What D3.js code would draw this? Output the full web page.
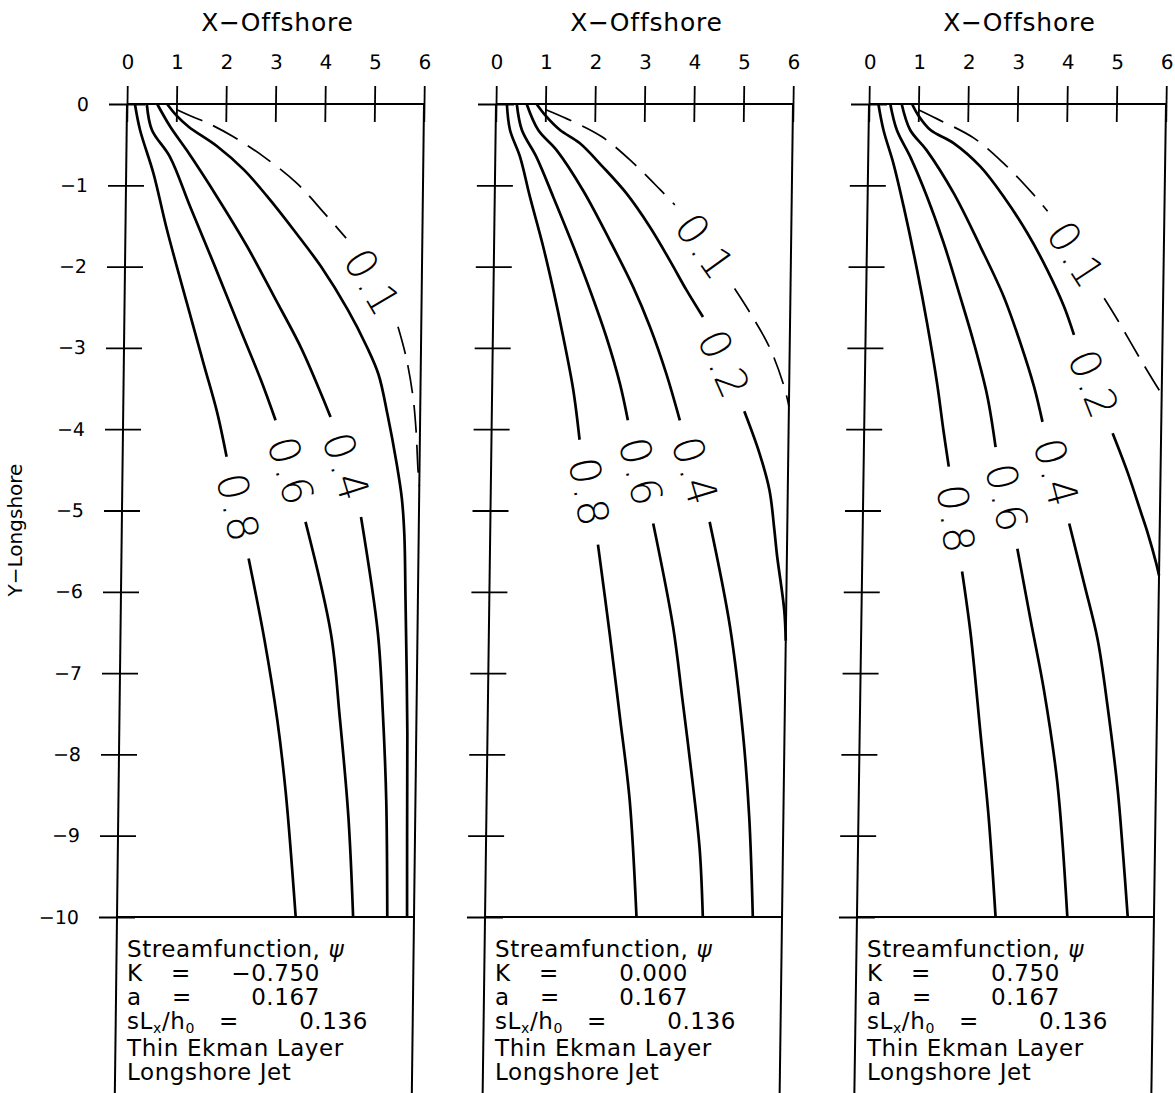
<!DOCTYPE html>
<html>
<head>
<meta charset="utf-8">
<script src="https://cdn.jsdelivr.net/npm/d3@7"></script>
<style>
  body { margin: 0; background: #fff; }
  svg { display: block; font-family: "DejaVu Sans", sans-serif; }
</style>
</head>
<body>
<svg id="chart" width="1175" height="1093"></svg>
<script>
// streamfunction levels drawn in every panel (0.1 is the dashed one)
var levels = [0.1, 0.2, 0.4, 0.6, 0.8];
var kValues = [-0.750, 0.000, 0.750];
var aValue = 0.167;
var slhValue = 0.136;
var xTicks = [0, 1, 2, 3, 4, 5, 6];
var yTicks = [0, -1, -2, -3, -4, -5, -6, -7, -8, -9, -10];

// panel 1, K = -0.750 : each contour is a list of pieces, broken where its label sits
var k1_psi01 = [[[1.01,-0.07],[1.34,-0.16],[1.62,-0.23],[2.15,-0.40],[2.78,-0.65],[3.46,-0.98],[3.98,-1.32],[4.46,-1.65]],
                [[5.53,-2.74],[5.70,-3.11],[5.85,-3.60],[5.92,-4.01],[5.97,-4.50],[6.0,-4.7]]];
var k1_psi02 = [[[0.81,0],[1.0,-0.14],[1.25,-0.28],[1.83,-0.52],[2.38,-0.81],[2.86,-1.14],[3.40,-1.55],[3.96,-2.00],[4.51,-2.53],[4.90,-2.98],[5.15,-3.33],[5.34,-3.82],[5.53,-4.40],[5.65,-4.85],[5.71,-5.30],[5.75,-6.10],[5.82,-7.74],[5.84,-8.97],[5.86,-10]]];
var k1_psi04 = [[[0.61,0],[0.88,-0.28],[1.22,-0.57],[1.84,-1.14],[2.46,-1.75],[3.02,-2.37],[3.57,-2.99],[3.99,-3.56],[4.19,-3.85]],
                [[4.83,-5.08],[5.20,-6.51],[5.32,-7.49],[5.41,-8.56],[5.46,-10]]];
var k1_psi06 = [[[0.40,0],[0.51,-0.32],[0.88,-0.65],[1.30,-1.26],[1.79,-1.96],[2.35,-2.78],[2.77,-3.39],[3.08,-3.89]],
                [[3.71,-5.14],[4.25,-6.51],[4.45,-7.54],[4.65,-8.77],[4.77,-10]]];
var k1_psi08 = [[[0.16,0],[0.27,-0.32],[0.55,-0.85],[0.84,-1.55],[1.26,-2.45],[1.61,-3.19],[1.90,-3.80],[2.10,-4.34]],
                [[2.57,-5.59],[2.91,-6.59],[3.19,-7.58],[3.38,-8.48],[3.61,-10]]];

// panel 2, K = 0.000
var k2_psi01 = [[[1.01,-0.07],[1.43,-0.18],[2.14,-0.40],[2.78,-0.72],[3.35,-1.06],[3.64,-1.24]],
                [[4.87,-2.27],[5.17,-2.55],[5.59,-2.99],[5.90,-3.48],[6.0,-3.72]]];
var k2_psi02 = [[[0.82,0],[1.0,-0.14],[1.30,-0.32],[1.70,-0.48],[2.17,-0.77],[2.66,-1.10],[3.14,-1.51],[3.55,-1.92],[3.90,-2.29],[4.24,-2.62]],
                [[5.10,-3.78],[5.42,-4.30],[5.63,-4.75],[5.74,-5.24],[5.80,-5.55],[5.96,-6.22],[6.0,-6.6]]];
var k2_psi04 = [[[0.62,0],[0.86,-0.32],[1.24,-0.57],[1.78,-1.06],[2.33,-1.67],[2.82,-2.25],[3.17,-2.74],[3.51,-3.31],[3.80,-3.89]],
                [[4.43,-5.14],[4.87,-6.43],[5.16,-7.74],[5.31,-8.77],[5.41,-10]]];
var k2_psi06 = [[[0.42,0],[0.53,-0.32],[0.83,-0.65],[1.18,-1.14],[1.60,-1.75],[1.95,-2.29],[2.29,-2.86],[2.58,-3.44],[2.75,-3.89]],
                [[3.29,-5.16],[3.72,-6.43],[3.93,-7.33],[4.16,-8.36],[4.32,-9.18],[4.40,-10]]];
var k2_psi08 = [[[0.22,0],[0.29,-0.32],[0.50,-0.65],[0.71,-1.14],[0.99,-1.75],[1.21,-2.29],[1.42,-2.86],[1.64,-3.52],[1.78,-4.13]],
                [[2.18,-5.42],[2.44,-6.51],[2.67,-7.54],[2.89,-8.56],[3.06,-10]]];

// panel 3, K = 0.750
var k3_psi01 = [[[1.00,-0.07],[1.37,-0.18],[2.13,-0.42],[2.74,-0.73],[3.33,-1.10],[3.64,-1.32]],
                [[4.81,-2.39],[5.09,-2.66],[5.57,-3.15],[5.95,-3.52],[6.0,-3.56]]];
var k3_psi02 = [[[0.87,0],[1.0,-0.14],[1.25,-0.32],[1.72,-0.48],[2.27,-0.77],[2.75,-1.14],[3.24,-1.59],[3.65,-2.04],[4.00,-2.49],[4.21,-2.84]],
                [[5.02,-4.05],[5.34,-4.54],[5.62,-5.03],[5.76,-5.28],[5.94,-5.65],[6.0,-5.8]]];
var k3_psi04 = [[[0.66,0],[0.84,-0.32],[1.18,-0.57],[1.74,-1.10],[2.29,-1.75],[2.78,-2.37],[3.13,-2.94],[3.42,-3.48],[3.60,-3.91]],
                [[4.17,-5.16],[4.49,-5.90],[4.78,-6.59],[5.00,-7.41],[5.23,-8.44],[5.35,-9.18],[5.47,-10]]];
var k3_psi06 = [[[0.43,0],[0.57,-0.32],[0.85,-0.65],[1.20,-1.14],[1.55,-1.71],[1.90,-2.37],[2.19,-2.94],[2.48,-3.60],[2.66,-4.22]],
                [[3.13,-5.47],[3.42,-6.35],[3.71,-7.21],[4.01,-8.36],[4.25,-10]]];
var k3_psi08 = [[[0.19,0],[0.30,-0.32],[0.51,-0.73],[0.73,-1.26],[1.02,-2.04],[1.24,-2.70],[1.46,-3.44],[1.60,-4.01],[1.72,-4.46]],
                [[2.02,-5.75],[2.21,-6.51],[2.44,-7.74],[2.63,-8.77],[2.80,-10]]];

var panelContours = [
  [k1_psi01, k1_psi02, k1_psi04, k1_psi06, k1_psi08],
  [k2_psi01, k2_psi02, k2_psi04, k2_psi06, k2_psi08],
  [k3_psi01, k3_psi02, k3_psi04, k3_psi06, k3_psi08]
];

//layout
var panelLeft = [127, 496, 869];
var top0 = 104;
var plotW = 297;
var plotH = 813;
var shear = [0.0123, 0.0135, 0.0148];   // the scanned frames lean a little to the left going down
var boxBottom = -12.3;
var boxLines = [957, 981, 1005, 1029, 1056, 1080];

var svg = d3.select('#chart');
var x = d3.scaleLinear().domain([0, 6]).range([0, plotW]);
var y = d3.scaleLinear().domain([0, -10]).range([0, plotH]);
var fmtK = d3.format('.3f');
var fmtLevel = d3.format('.1f');

var line = d3.line()
  .x(function(d){ return x(d[0]); })
  .y(function(d){ return y(d[1]); })
  .curve(d3.curveCatmullRom);

svg.append('text')
  .attr('transform', 'translate(22,530) rotate(-90)')
  .attr('text-anchor', 'middle')
  .attr('font-size', 20)
  .text('Y\u2212Longshore');

panelContours.forEach(function(contours, p){
  var left = panelLeft[p];
  var skew = -Math.atan(shear[p]) * 180 / Math.PI;

  svg.append('text')
    .attr('x', left + plotW / 2 + 2)
    .attr('y', 31)
    .attr('text-anchor', 'middle')
    .attr('font-size', 25)
    .attr('letter-spacing', 0.8)
    .text('X\u2212Offshore');

  var g = svg.append('g')
    .attr('transform', 'translate(' + left + ',' + top0 + ') skewX(' + skew + ')');

  // frame: left axis and right edge run on down as the sides of the text box
  var frame = g.append('g').attr('stroke', '#000').attr('stroke-width', 2);
  frame.append('line').attr('x1', x(0)).attr('x2', x(0)).attr('y1', y(0)).attr('y2', y(boxBottom));
  frame.append('line').attr('x1', x(6)).attr('x2', x(6)).attr('y1', y(0)).attr('y2', y(boxBottom));
  frame.append('line').attr('x1', x(0)).attr('x2', x(6)).attr('y1', y(0)).attr('y2', y(0));
  frame.append('line').attr('x1', x(0)).attr('x2', x(6)).attr('y1', y(-10)).attr('y2', y(-10));

  var xAxis = g.append('g')
    .call(d3.axisTop(x).tickValues(xTicks).tickSize(18).tickPadding(17).tickFormat(d3.format('d')));
  xAxis.select('.domain').remove();
  xAxis.selectAll('.tick line').attr('y1', 18).attr('stroke-width', 1.8);
  xAxis.selectAll('.tick text').style('font-size', '20px').style('font-family', '"DejaVu Sans", sans-serif');

  var yAxis = g.append('g')
    .call(d3.axisLeft(y).tickValues(yTicks).tickSize(18).tickPadding(20)
      .tickFormat(p === 0 ? d3.format('d') : function(){ return ''; }));
  yAxis.select('.domain').remove();
  yAxis.selectAll('.tick line').attr('x1', 18).attr('stroke-width', 1.8);
  yAxis.selectAll('.tick text').style('font-size', '19px').style('font-family', '"DejaVu Sans", sans-serif');

  contours.forEach(function(pieces, i){
    var dashed = levels[i] === 0.1;
    g.append('g').selectAll('path')
      .data(pieces)
      .enter().append('path')
      .attr('d', line)
      .attr('fill', 'none')
      .attr('stroke', '#000')
      .attr('stroke-width', dashed ? 1.7 : 2.7)
      .attr('stroke-dasharray', dashed ? '28,12' : null);

    // label goes in each gap between pieces, turned along the curve
    for (var j = 0; j < pieces.length - 1; j++) {
      var a = pieces[j][pieces[j].length - 1], b = pieces[j + 1][0];
      var ax = x(a[0]), ay = y(a[1]), bx = x(b[0]), by = y(b[1]);
      var ang = Math.atan2(by - ay, bx - ax) * 180 / Math.PI;
      g.append('text')
        .attr('transform', 'translate(' + (ax + bx) / 2 + ',' + (ay + by) / 2 + ') rotate(' + ang + ')')
        .attr('text-anchor', 'middle')
        .attr('dominant-baseline', 'central')
        .attr('font-size', 42)
        .attr('font-weight', 200)
        .attr('letter-spacing', 1)
        .text(fmtLevel(levels[i]));
    }
  });

  // parameter box
  var tx = left - shear[p] * plotH + 10;
  var box = svg.append('g').attr('font-size', 23).attr('letter-spacing', 0.6);
  var t0 = box.append('text').attr('x', tx).attr('y', boxLines[0]).text('Streamfunction, ');
  t0.append('tspan').attr('font-style', 'italic').text('\u03c8');

  box.append('text').attr('x', tx).attr('y', boxLines[1]).text('K');
  box.append('text').attr('x', tx + 54).attr('y', boxLines[1]).attr('text-anchor', 'middle').text('=');
  box.append('text').attr('x', tx + 193).attr('y', boxLines[1]).attr('text-anchor', 'end').text(fmtK(kValues[p]));

  box.append('text').attr('x', tx).attr('y', boxLines[2]).text('a');
  box.append('text').attr('x', tx + 55).attr('y', boxLines[2]).attr('text-anchor', 'middle').text('=');
  box.append('text').attr('x', tx + 193).attr('y', boxLines[2]).attr('text-anchor', 'end').text(fmtK(aValue));

  var t3 = box.append('text').attr('x', tx).attr('y', boxLines[3]).text('sL');
  t3.append('tspan').attr('font-size', 14).attr('dy', 4).text('x');
  t3.append('tspan').attr('dy', -4).text('/h');
  t3.append('tspan').attr('font-size', 14).attr('dy', 4).text('0');
  box.append('text').attr('x', tx + 102).attr('y', boxLines[3]).attr('text-anchor', 'middle').text('=');
  box.append('text').attr('x', tx + 241).attr('y', boxLines[3]).attr('text-anchor', 'end').text(fmtK(slhValue));

  box.append('text').attr('x', tx).attr('y', boxLines[4]).text('Thin Ekman Layer');
  box.append('text').attr('x', tx).attr('y', boxLines[5]).text('Longshore Jet');
});
</script>
</body>
</html>
